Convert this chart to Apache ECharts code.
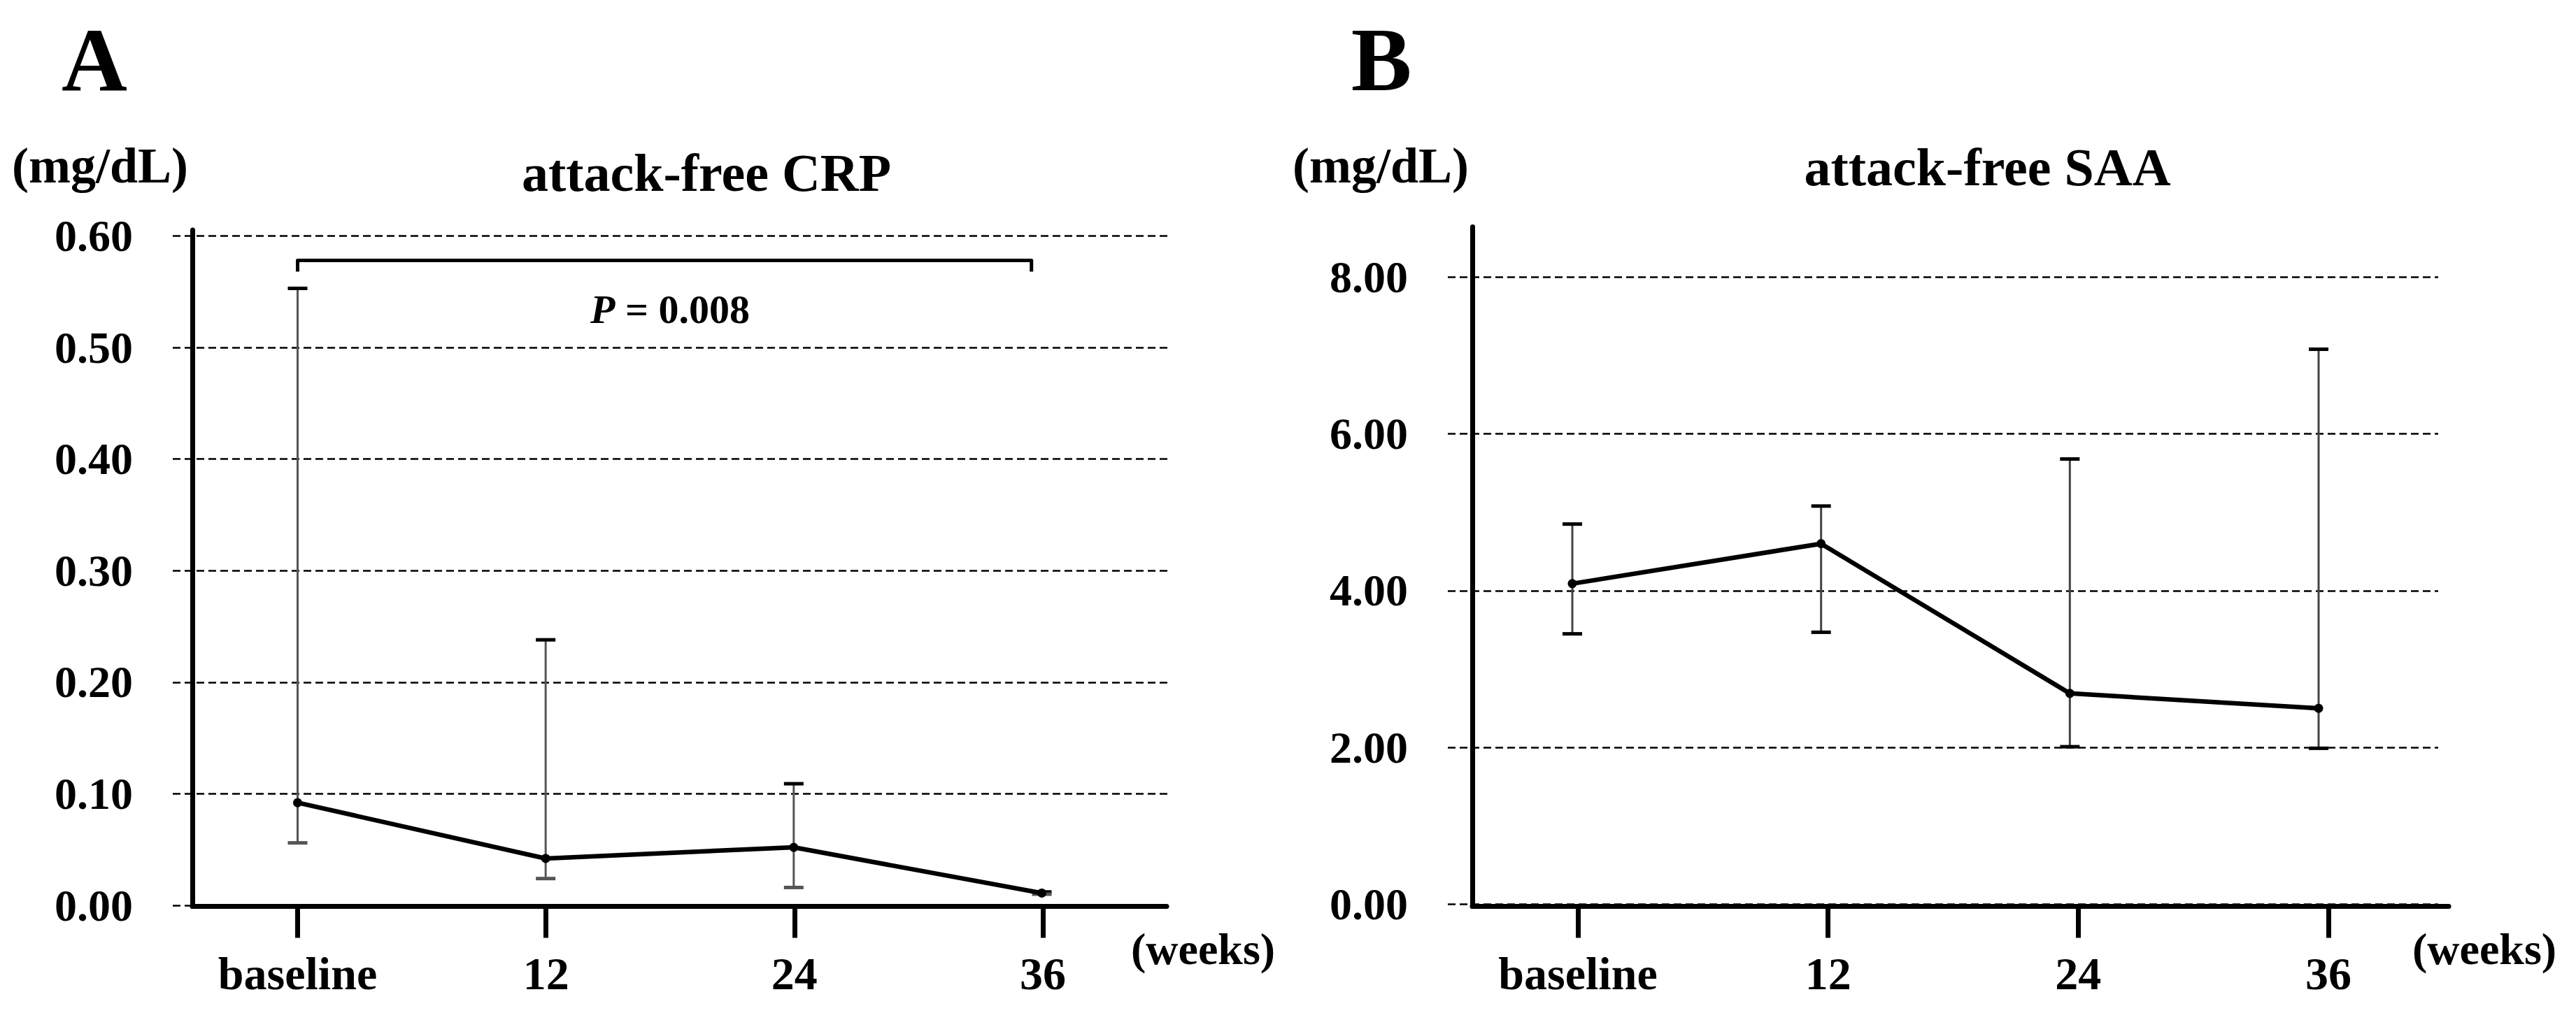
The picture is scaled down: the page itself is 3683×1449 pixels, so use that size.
<!DOCTYPE html>
<html>
<head>
<meta charset="utf-8">
<script src="https://cdn.jsdelivr.net/npm/echarts@6/dist/echarts.min.js"></script>
<style>
html,body{margin:0;padding:0;background:#fff;}
#c{width:3683px;height:1449px;}
</style>
</head>
<body>
<div id="c"></div>
<script>
// ---------- data ----------
const categories = ['baseline', '12', '24', '36'];
const weeks = [0, 12, 24, 36];

const crpMean  = [0.092, 0.042, 0.052, 0.011];
const crpUpper = [0.553, 0.238, 0.109, 0.012];
const crpLower = [0.056, 0.024, 0.016, 0.010];

const saaMean  = [4.09, 4.60, 2.69, 2.50];
const saaUpper = [4.85, 5.08, 5.68, 7.08];
const saaLower = [3.45, 3.47, 2.01, 1.99];

const crpTicks = [0, 0.1, 0.2, 0.3, 0.4, 0.5, 0.6];
const saaTicks = [0, 2, 4, 6, 8];

const crpBracket = { from: 0, to: 35.5, level: 0.578, leg: 0.568 };
const crpPText = '0.008';

// ---------- layout (pixels) ----------
const LA = {gridL:247, gridR:1669, gridTop:337.5, zeroY:1295, axisX:275, axisEnd:1668, axisTop:329, axisY:1296.5,
            tick0:425.5, tick36:1491, data0:425.5, data36:1489.5};
const LB = {gridL:2070, gridR:3486, gridTop:396.4, zeroY:1293.5, axisX:2105, axisEnd:3501, axisTop:324.5, axisY:1296.5,
            tick0:2256, tick36:3329, data0:2248, data36:3315};

const FONT = "'Liberation Serif','Times New Roman',Times,serif";

function xRange(left, right, p0, p36) {
  const ppw = (p36 - p0) / 36;
  return [-(p0 - left) / ppw, 36 + (right - p36) / ppw];
}
function zip(a, b) { return weeks.map((w, i) => [w, a[i], b ? b[i] : undefined]); }

function panel(L, ticks, gi) {
  const topVal = ticks[ticks.length - 1];
  const ppu = (L.zeroY - L.gridTop) / topVal;
  const gx = xRange(L.gridL, L.gridR, L.data0, L.data36);
  const lx = xRange(L.axisX, L.axisEnd, L.tick0, L.tick36);
  const grids = [
    {left: L.gridL, top: L.gridTop, width: L.gridR - L.gridL, height: L.zeroY - L.gridTop},
    {left: L.axisX, top: L.axisTop, width: L.axisEnd - L.axisX, height: L.axisY - L.axisTop}
  ];
  const xAxes = [
    {gridIndex: gi, type: 'value', min: gx[0], max: gx[1], show: false},
    {gridIndex: gi + 1, type: 'value', min: lx[0], max: lx[1],
     axisLine: {show: true, onZero: false, lineStyle: {color: '#000', width: 7}},
     axisTick: {show: true, customValues: weeks, length: 45, lineStyle: {color: '#000', width: 7}},
     axisLabel: {show: true, customValues: weeks, margin: 63,
       formatter: v => categories[weeks.indexOf(v)] ?? '',
       fontFamily: FONT, fontWeight: 'bold', fontSize: 66, color: '#000'},
     splitLine: {show: false}}
  ];
  const yAxes = [
    {gridIndex: gi, type: 'value', min: ticks[0], max: topVal, interval: ticks[1] - ticks[0],
     axisLine: {show: false, onZero: false}, axisTick: {show: false},
     axisLabel: {margin: 57, formatter: v => v.toFixed(2), fontFamily: FONT, fontWeight: 'bold', fontSize: 64, color: '#000'},
     splitLine: {show: true, lineStyle: {color: '#000', width: 2.6, type: [11, 6]}}},
    {gridIndex: gi + 1, type: 'value', min: -(L.axisY - L.zeroY) / ppu, max: (L.zeroY - L.axisTop) / ppu,
     axisLine: {show: true, onZero: false, lineStyle: {color: '#000', width: 7}},
     axisTick: {show: false}, axisLabel: {show: false}, splitLine: {show: false}}
  ];
  return {grids, xAxes, yAxes};
}

function errorRender(lineColor, upCap, lowCap) {
  return function (params, api) {
    const x = api.value(0), lo = api.value(1), hi = api.value(2);
    const pl = api.coord([x, lo]), ph = api.coord([x, hi]);
    const hw = 14;
    return {type: 'group', children: [
      {type: 'line', shape: {x1: pl[0], y1: pl[1], x2: ph[0], y2: ph[1]}, style: {stroke: lineColor, lineWidth: 3}},
      {type: 'line', shape: {x1: ph[0] - hw, y1: ph[1], x2: ph[0] + hw, y2: ph[1]}, style: {stroke: upCap, lineWidth: 5}},
      {type: 'line', shape: {x1: pl[0] - hw, y1: pl[1], x2: pl[0] + hw, y2: pl[1]}, style: {stroke: lowCap, lineWidth: 5}}
    ]};
  };
}

const pA = panel(LA, crpTicks, 0);
const pB = panel(LB, saaTicks, 2);

function txt(x, baseline, fs, text, align, extra) {
  return {
    type: 'text', x: x, y: baseline - 0.3375 * fs,
    style: Object.assign({text: text, fontFamily: FONT, fontWeight: 'bold', fontSize: fs, fill: '#000',
      align: align, verticalAlign: 'middle'}, extra || {})
  };
}

const lineSeries = (xi, data) => ({
  type: 'line', xAxisIndex: xi, yAxisIndex: xi, data: data,
  symbol: 'circle', symbolSize: 13, itemStyle: {color: '#000'},
  lineStyle: {color: '#000', width: 6.5}, z: 5, clip: false
});

const option = {
  backgroundColor: '#fff',
  animation: false,
  grid: [...pA.grids, ...pB.grids],
  xAxis: [...pA.xAxes, ...pB.xAxes],
  yAxis: [...pA.yAxes, ...pB.yAxes],
  series: [
    {type: 'custom', xAxisIndex: 0, yAxisIndex: 0, data: zip(crpLower, crpUpper),
     renderItem: errorRender('#555', '#000', '#555'), z: 3},
    lineSeries(0, zip(crpMean)),
    {type: 'custom', xAxisIndex: 0, yAxisIndex: 0,
     data: [[crpBracket.from, crpBracket.to, crpBracket.level, crpBracket.leg]],
     renderItem: function (params, api) {
       const a = api.coord([api.value(0), api.value(3)]);
       const b = api.coord([api.value(0), api.value(2)]);
       const c = api.coord([api.value(1), api.value(2)]);
       const d = api.coord([api.value(1), api.value(3)]);
       return {type: 'polyline', shape: {points: [a, b, c, d]},
         style: {stroke: '#000', lineWidth: 5, fill: null, lineJoin: 'round'}};
     }, z: 4},
    {type: 'custom', xAxisIndex: 2, yAxisIndex: 2, data: zip(saaLower, saaUpper),
     renderItem: errorRender('#444', '#000', '#000'), z: 3},
    lineSeries(2, zip(saaMean))
  ],
  graphic: [
    txt(135, 129, 130, 'A', 'center'),
    txt(1975, 129, 130, 'B', 'center'),
    txt(17, 261, 72, '(mg/dL)', 'left'),
    txt(1848, 261, 72, '(mg/dL)', 'left'),
    txt(1010, 272.5, 76, 'attack-free CRP', 'center'),
    txt(2841.5, 265, 76, 'attack-free SAA', 'center'),
    txt(958, 462, 58, '{i|P} = ' + crpPText, 'center',
        {rich: {i: {fontStyle: 'italic', fontWeight: 'bold', fontFamily: FONT, fontSize: 58}}}),
    txt(1617, 1379, 64, '(weeks)', 'left'),
    txt(3449, 1379, 64, '(weeks)', 'left')
  ]
};

const chart = echarts.init(document.getElementById('c'), null, {renderer: 'svg', width: 3683, height: 1449});
chart.setOption(option);
</script>
</body>
</html>
